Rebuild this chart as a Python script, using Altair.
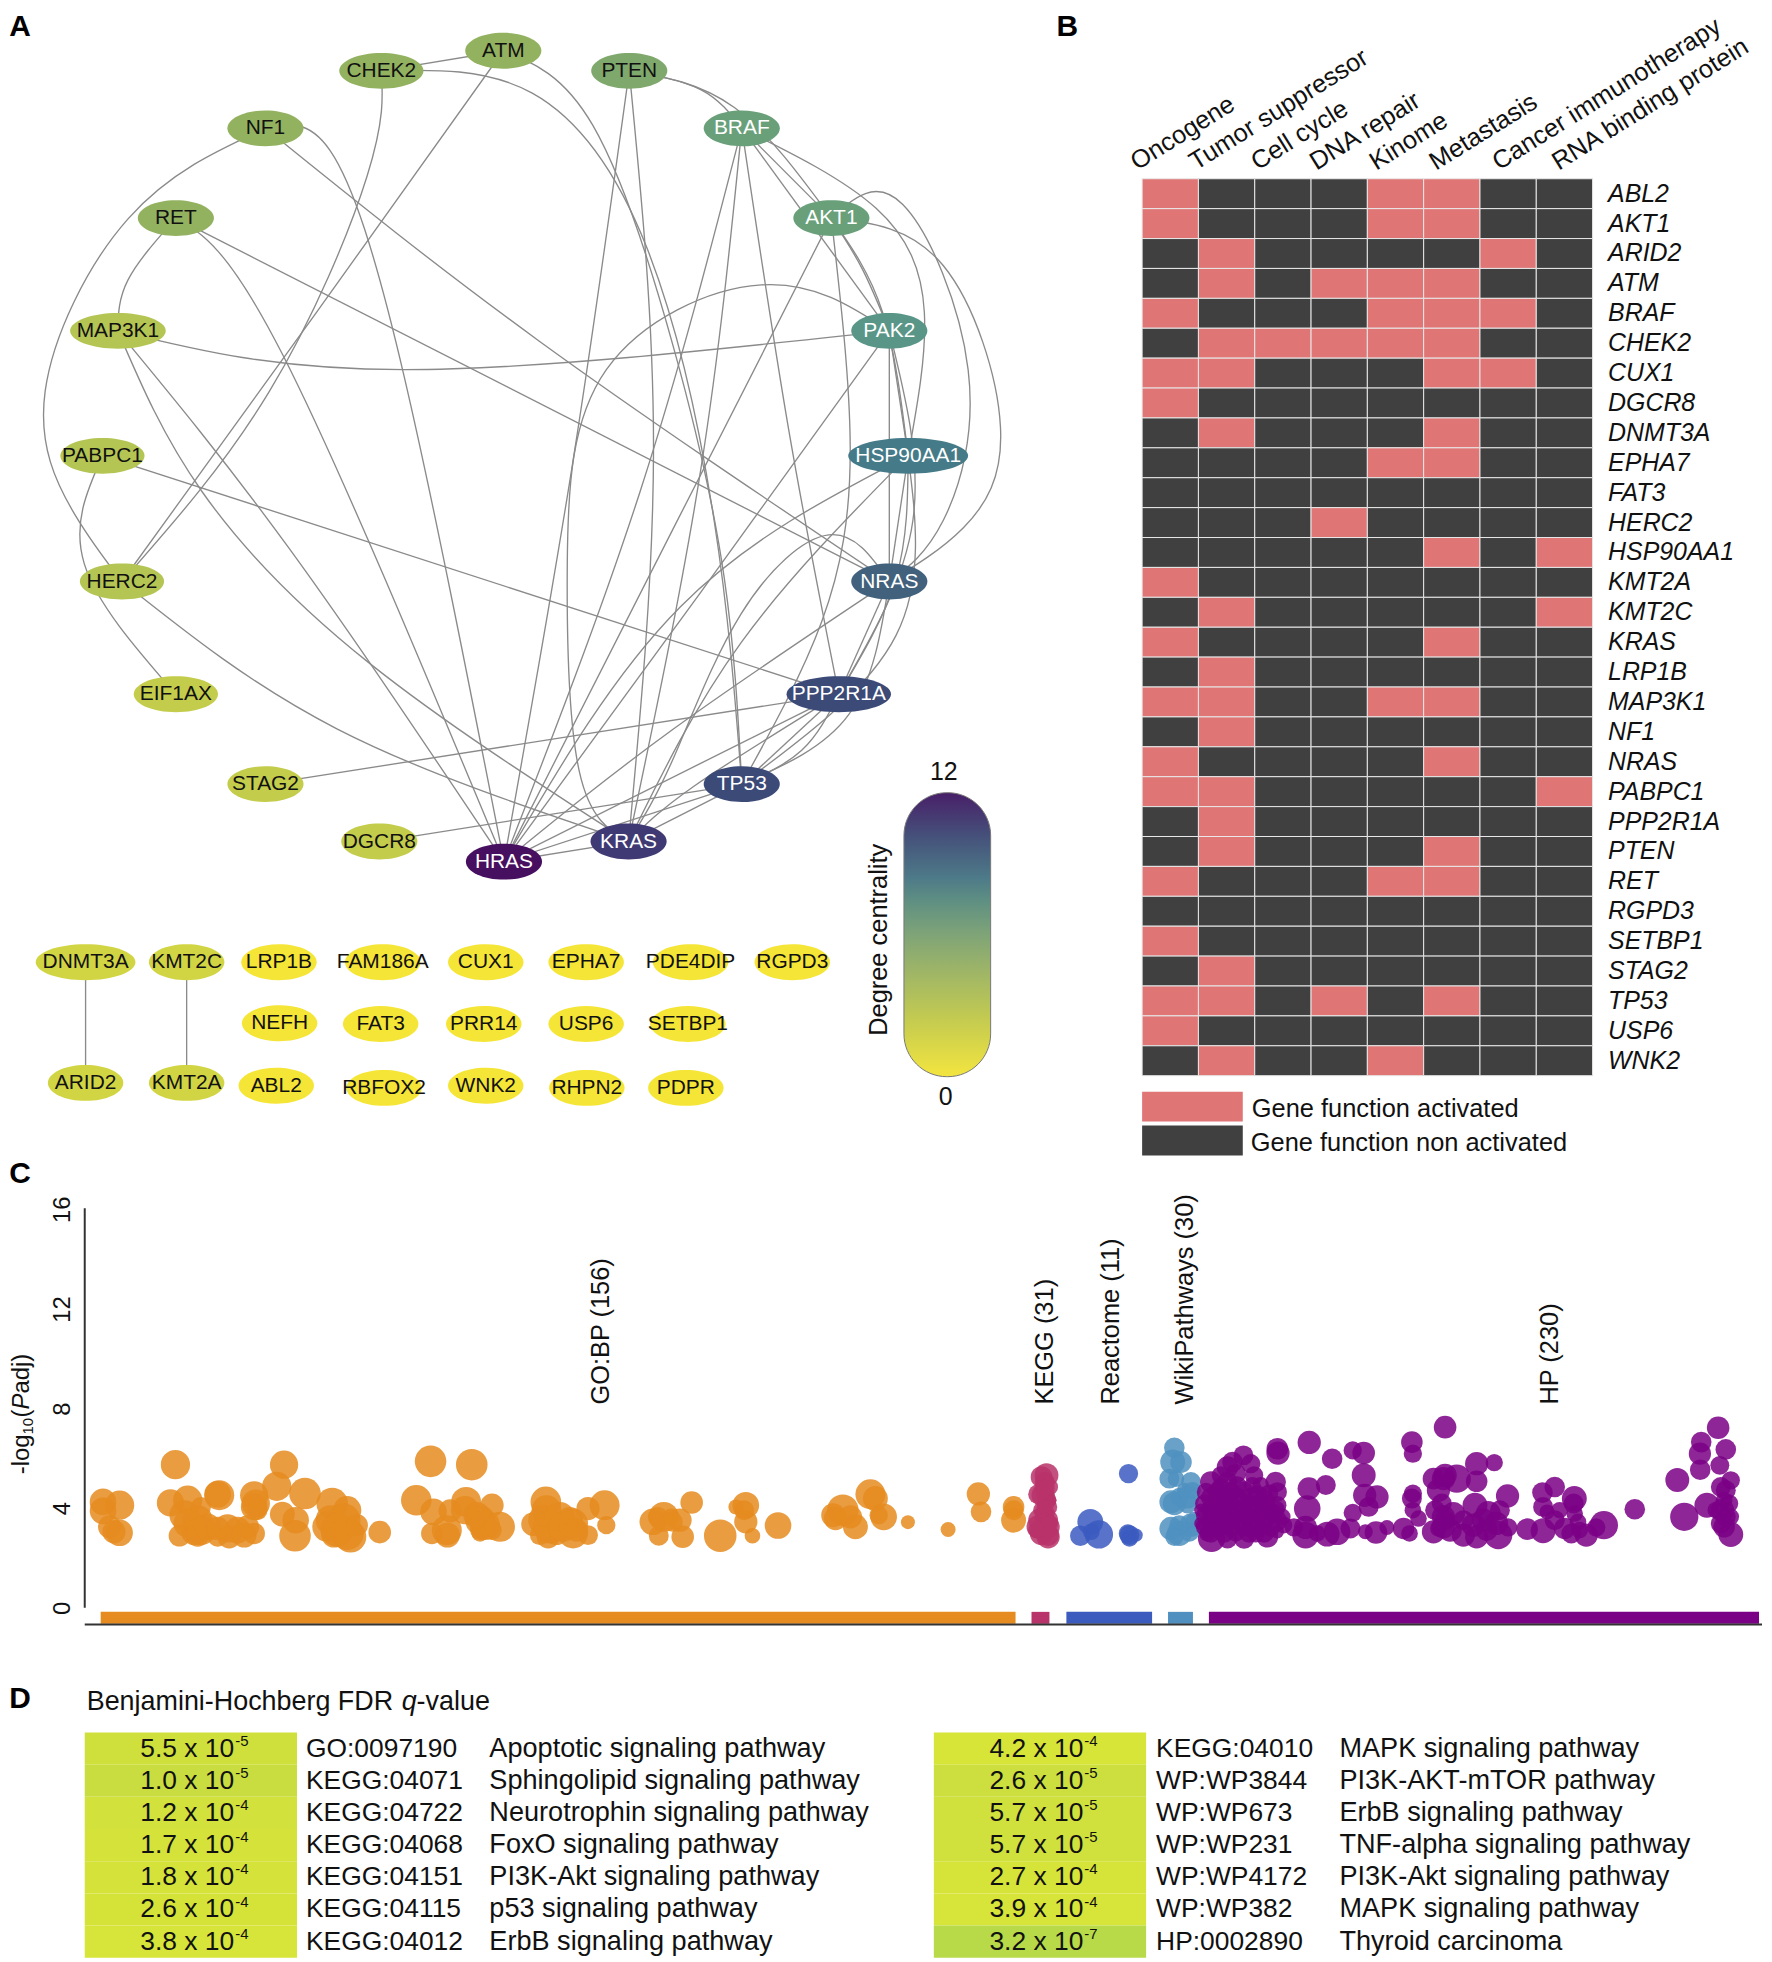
import altair as alt
import pandas as pd

FONT = "Liberation Sans"
ONE = pd.DataFrame({"v": [0]})

# ---------------------------------------------------------------- panel A values
NODES = [
    ("ATM", 747, 66, 113, 4), ("CHEK2", 566, 94, 125, 4), ("PTEN", 934, 94, 113, 5),
    ("NF1", 394, 174, 113, 4), ("BRAF", 1101, 174, 113, 6), ("RET", 261, 299, 113, 4),
    ("AKT1", 1234, 299, 113, 6), ("MAP3K1", 175, 456, 142, 3), ("PAK2", 1320, 456, 113, 7),
    ("PABPC1", 152, 630, 125, 3), ("HSP90AA1", 1348, 630, 178, 8), ("HERC2", 181, 805, 125, 3),
    ("NRAS", 1320, 805, 113, 9), ("EIF1AX", 261, 962, 125, 2), ("PPP2R1A", 1245, 962, 155, 10),
    ("STAG2", 394, 1087, 113, 2), ("TP53", 1101, 1087, 113, 10), ("DGCR8", 563, 1167, 113, 2),
    ("KRAS", 933, 1167, 113, 11), ("HRAS", 748, 1195, 113, 12),
    ("DNMT3A", 127, 1335, 148, 1), ("KMT2C", 277, 1335, 112, 1), ("LRP1B", 414, 1335, 112, 0),
    ("FAM186A", 568, 1335, 112, 0), ("CUX1", 721, 1335, 112, 0), ("EPHA7", 870, 1335, 112, 0),
    ("PDE4DIP", 1025, 1335, 112, 0), ("RGPD3", 1176, 1335, 112, 0),
    ("NEFH", 415, 1420, 112, 0), ("FAT3", 565, 1421, 112, 0), ("PRR14", 718, 1421, 112, 0),
    ("USP6", 870, 1421, 112, 0), ("SETBP1", 1021, 1421, 112, 0),
    ("ARID2", 127, 1503, 112, 1), ("KMT2A", 277, 1503, 112, 1), ("ABL2", 410, 1507, 112, 0),
    ("RBFOX2", 570, 1510, 112, 0), ("WNK2", 721, 1507, 112, 0), ("RHPN2", 871, 1510, 112, 0),
    ("PDPR", 1018, 1510, 112, 0),
]
WHITE_TEXT = ["BRAF", "AKT1", "PAK2", "HSP90AA1", "NRAS", "PPP2R1A", "TP53", "KRAS", "HRAS"]
EDGES = [
    ("CHEK2", "ATM", []),
    ("CHEK2", "TP53", [(790, 125), (960, 340), (1060, 720)]),
    ("ATM", "TP53", [(880, 170), (1000, 480), (1075, 800)]),
    ("CHEK2", "HERC2", [(545, 240), (400, 540)]),
    ("ATM", "HERC2", [(470, 430)]),
    ("NF1", "HERC2", [(190, 300), (67, 540), (110, 710)]),
    ("NF1", "HRAS", [(490, 205), (600, 520)]),
    ("NF1", "NRAS", [(800, 470)]),
    ("RET", "HRAS", [(420, 490)]),
    ("RET", "NRAS", []),
    ("RET", "MAP3K1", [(190, 385)]),
    ("MAP3K1", "PAK2", [(600, 510)]),
    ("MAP3K1", "HRAS", [(430, 760)]),
    ("MAP3K1", "KRAS", [(300, 680), (550, 920)]),
    ("PABPC1", "PPP2R1A", []),
    ("PABPC1", "EIF1AX", [(125, 780)]),
    ("HERC2", "KRAS", [(500, 1010)]),
    ("STAG2", "PPP2R1A", []),
    ("DGCR8", "TP53", []),
    ("HRAS", "KRAS", []),
    ("KRAS", "TP53", []),
    ("HRAS", "TP53", []),
    ("PTEN", "BRAF", [(1040, 120)]),
    ("PTEN", "AKT1", [(1090, 145)]),
    ("PTEN", "HRAS", [(850, 640)]),
    ("PTEN", "KRAS", [(970, 620)]),
    ("BRAF", "HRAS", [(950, 680)]),
    ("BRAF", "KRAS", [(1040, 650)]),
    ("BRAF", "PPP2R1A", [(1170, 590)]),
    ("BRAF", "AKT1", []),
    ("BRAF", "PAK2", []),
    ("BRAF", "HSP90AA1", [(1300, 285), (1372, 430)]),
    ("AKT1", "NRAS", [(1340, 280), (1437, 510), (1400, 720)]),
    ("AKT1", "NRAS", [(1400, 365), (1485, 590), (1430, 730)]),
    ("AKT1", "HRAS", [(1000, 730)]),
    ("AKT1", "TP53", [(1262, 620), (1220, 860)]),
    ("AKT1", "PAK2", [(1280, 370)]),
    ("AKT1", "HSP90AA1", [(1310, 430)]),
    ("PAK2", "KRAS", [(1130, 392), (900, 510), (842, 780), (860, 1070)]),
    ("PAK2", "HRAS", [(1040, 820)]),
    ("PAK2", "HSP90AA1", []),
    ("PAK2", "NRAS", []),
    ("PAK2", "PPP2R1A", [(1355, 720)]),
    ("HSP90AA1", "HRAS", [(1010, 840)]),
    ("HSP90AA1", "KRAS", [(1100, 890)]),
    ("HSP90AA1", "NRAS", []),
    ("HSP90AA1", "PPP2R1A", [(1330, 800)]),
    ("HSP90AA1", "TP53", [(1330, 880)]),
    ("NRAS", "HRAS", [(1000, 1010)]),
    ("NRAS", "KRAS", [(1230, 740), (1100, 850), (1000, 1050)]),
    ("NRAS", "PPP2R1A", []),
    ("NRAS", "TP53", [(1260, 990)]),
    ("PPP2R1A", "HRAS", []),
    ("PPP2R1A", "KRAS", [(1030, 1090)]),
    ("PPP2R1A", "TP53", []),
    ("PPP2R1A", "TP53", [(1190, 1040)]),
    ("DNMT3A", "ARID2", []),
    ("KMT2C", "KMT2A", []),
]
DEGREE_STEPS = list(range(13))
DEGREE_COLORS = ["#f5e536", "#d2d543", "#c4cc4b", "#b5c553", "#93b260", "#7fa86c", "#69a07a",
                 "#5a9688", "#457a88", "#41617d", "#3c4a77", "#403a74", "#470f60"]

# ---------------------------------------------------------------- panel B values
FUNCTIONS = ["Oncogene", "Tumor suppressor", "Cell cycle", "DNA repair", "Kinome", "Metastasis",
             "Cancer immunotherapy", "RNA binding protein"]
FUNCTION_LABEL_X = [1141, 1200, 1262, 1321, 1381, 1441, 1504, 1564]
GENES = ["ABL2", "AKT1", "ARID2", "ATM", "BRAF", "CHEK2", "CUX1", "DGCR8", "DNMT3A", "EPHA7", "FAT3",
         "HERC2", "HSP90AA1", "KMT2A", "KMT2C", "KRAS", "LRP1B", "MAP3K1", "NF1", "NRAS", "PABPC1",
         "PPP2R1A", "PTEN", "RET", "RGPD3", "SETBP1", "STAG2", "TP53", "USP6", "WNK2"]
ACTIVE = ["10001100", "10001100", "01000010", "01011100", "10001110", "01111100", "11000110",
          "10000000", "01000100", "00001100", "00000000", "00010000", "00000101", "10000000",
          "01000001", "10000100", "01000000", "11001100", "01000000", "10000100", "11000001",
          "01000000", "01000100", "10001100", "00000000", "10000000", "01000000", "11010100",
          "10000000", "01001000"]

# ---------------------------------------------------------------- panel C values
ORANGE_A = [(55, 245, 80), (105, 255, 88), (55, 272, 80), (75, 320, 70), (88, 335, 70), (105, 338, 80),
            (273, 133, 88), (258, 248, 82), (310, 240, 88), (405, 225, 90), (400, 222, 80),
            (300, 285, 90), (310, 310, 85), (340, 300, 90), (350, 330, 90), (330, 335, 80), (285, 347, 65),
            (340, 345, 70), (370, 320, 80), (400, 350, 60), (430, 325, 85), (435, 350, 70), (460, 330, 80),
            (480, 345, 75), (510, 340, 65), (490, 320, 70), (400, 325, 70), (350, 260, 60),
            (510, 225, 85), (515, 250, 85), (510, 260, 80), (520, 270, 60),
            (600, 133, 85), (578, 198, 88), (663, 220, 95), (595, 282, 75), (635, 300, 80), (633, 347, 95),
            (745, 250, 95), (790, 270, 85), (740, 300, 90), (780, 300, 100), (730, 320, 90), (760, 330, 100),
            (790, 340, 100), (750, 345, 75), (800, 350, 95), (820, 315, 65), (888, 336, 68),
            (1041, 123, 95), (1165, 133, 95), (998, 240, 92), (1050, 275, 80), (1100, 272, 70), (1148, 245, 90),
            (1145, 270, 85), (1226, 255, 70), (1190, 300, 90), (1205, 315, 90), (1180, 285, 80), (1045, 340, 65),
            (1090, 330, 90), (1092, 345, 75), (1190, 330, 60), (1250, 320, 90), (1225, 330, 60), (1190, 340, 50),
            (1388, 245, 92), (1390, 270, 90), (1350, 312, 72), (1380, 300, 90), (1400, 320, 100), (1430, 290, 90),
            (1460, 300, 80), (1470, 340, 90), (1395, 350, 70), (1420, 340, 70), (1440, 320, 90), (1470, 310, 90),
            (1515, 345, 60), (1515, 265, 70), (1370, 345, 60), (1480, 330, 70)]
ORANGE_B = [(5, 255, 90), (10, 315, 55), (183, 290, 90), (150, 305, 80), (165, 290, 60), (267, 247, 68),
            (232, 300, 70), (168, 347, 60), (240, 350, 68), (205, 290, 50), (210, 305, 60),
            (353, 347, 98), (430, 255, 80), (430, 305, 70), (425, 270, 60), (400, 260, 45), (450, 347, 47),
            (527, 316, 80), (805, 222, 90), (820, 235, 75), (722, 270, 95), (693, 285, 72), (700, 295, 70),
            (760, 320, 75), (745, 290, 70), (845, 290, 80), (830, 285, 55), (918, 306, 42), (1039, 328, 45),
            (1130, 221, 70), (1138, 275, 62), (1236, 260, 65), (1236, 300, 75), (1236, 270, 60)]
KEGG = [(1335, 165, 72), (1320, 170, 65), (1330, 185, 60), (1325, 225, 70), (1335, 240, 60), (1310, 222, 60),
        (1340, 260, 55), (1315, 300, 70), (1335, 300, 70), (1310, 320, 70), (1340, 320, 70), (1320, 340, 70),
        (1340, 345, 65), (1340, 350, 70), (1330, 280, 60), (1330, 205, 60), (1345, 200, 50), (1350, 240, 30),
        (1320, 270, 50), (1345, 310, 50), (1305, 330, 50), (1325, 260, 40)]
REACTOME_A = [(1467, 305, 78), (1437, 347, 62), (1493, 343, 85), (1470, 335, 50)]
REACTOME_B = [(22, 190, 58), (25, 375, 60), (20, 370, 55), (45, 375, 40), (25, 385, 50)]
WIKI = [(160, 112, 62), (155, 155, 75), (180, 155, 65), (145, 205, 60), (165, 205, 50), (210, 215, 60),
        (150, 275, 70), (200, 260, 70), (160, 280, 70), (150, 355, 70), (175, 370, 75), (210, 345, 70),
        (205, 365, 60), (175, 345, 60), (160, 380, 55), (220, 330, 50), (200, 280, 60), (175, 260, 55),
        (190, 240, 45), (215, 240, 50)]
HP_A = [(368, 135, 60), (335, 155, 62), (320, 170, 65), (390, 160, 58), (345, 190, 60), (300, 195, 55),
        (270, 215, 65), (320, 215, 62), (400, 195, 55), (420, 225, 50), (465, 215, 62), (470, 245, 58),
        (255, 245, 55), (290, 245, 60), (330, 245, 60), (370, 240, 55), (410, 255, 60), (445, 250, 55),
        (250, 280, 55), (285, 280, 60), (320, 280, 60), (355, 275, 60), (395, 285, 60), (435, 280, 55), (470, 285, 55),
        (255, 315, 60), (295, 315, 60), (335, 315, 60), (375, 315, 60), (415, 315, 55), (455, 310, 60), (485, 320, 50),
        (255, 350, 60), (290, 350, 55), (330, 350, 60), (370, 350, 60), (410, 350, 60), (450, 350, 60), (490, 345, 50),
        (272, 385, 82), (320, 385, 60), (370, 385, 62), (440, 380, 65), (405, 370, 55), (260, 370, 50), (345, 370, 50),
        (470, 365, 40),
        (270, 262, 60), (310, 262, 60), (350, 262, 60), (390, 262, 60), (430, 262, 55), (270, 298, 60), (310, 298, 60),
        (350, 298, 60), (390, 298, 60), (430, 298, 60), (465, 298, 55), (270, 332, 60), (310, 332, 60), (350, 332, 60),
        (390, 332, 60), (430, 332, 60), (470, 332, 60), (270, 368, 60), (310, 368, 60), (385, 368, 60), (430, 368, 60),
        (300, 230, 55), (350, 225, 55), (395, 225, 50), (240, 300, 40), (240, 340, 40), (520, 352, 55),
        (470, 115, 65), (472, 128, 70), (566, 96, 70), (635, 145, 62), (697, 120, 55), (730, 128, 68), (730, 195, 72),
        (565, 235, 68), (616, 224, 60), (560, 295, 80), (733, 255, 70), (770, 260, 70), (745, 290, 60), (697, 308, 55),
        (555, 352, 70), (555, 375, 80), (620, 372, 75), (650, 365, 80), (590, 370, 50), (690, 355, 60), (735, 365, 45),
        (767, 367, 68), (800, 352, 45), (850, 355, 65), (868, 370, 50), (895, 325, 50), (875, 95, 65), (878, 130, 55),
        (875, 265, 60), (878, 250, 55), (878, 300, 50), (940, 205, 65), (955, 240, 70), (945, 300, 60), (940, 365, 70),
        (955, 355, 50), (975, 330, 60)]
HP_B = [(15, 50, 68), (110, 160, 70), (163, 157, 52), (110, 213, 65), (50, 205, 85), (10, 205, 70), (15, 195, 70),
        (203, 257, 70), (105, 285, 75), (145, 310, 75), (130, 330, 70), (100, 345, 70), (170, 340, 70), (175, 375, 85),
        (110, 380, 70), (70, 375, 70), (30, 360, 70), (10, 350, 70), (40, 310, 70), (70, 330, 60), (5, 280, 60),
        (10, 320, 70), (140, 360, 65), (180, 300, 60), (205, 352, 55), (262, 357, 65), (310, 362, 75), (345, 230, 62),
        (308, 247, 62), (310, 290, 60), (322, 305, 45), (404, 265, 75), (402, 280, 60), (405, 310, 50), (360, 300, 50),
        (345, 330, 60), (375, 355, 65), (395, 370, 60), (415, 335, 50), (440, 375, 70), (420, 360, 50), (470, 352, 55),
        (493, 345, 85), (586, 297, 62), (837, 52, 68), (786, 95, 62), (782, 130, 67), (860, 117, 62), (842, 165, 57),
        (783, 178, 62), (714, 209, 72), (875, 210, 55), (845, 230, 60), (860, 240, 60), (735, 320, 85), (803, 285, 75),
        (870, 280, 55), (855, 270, 50), (850, 300, 70), (830, 300, 50), (875, 320, 50), (845, 340, 60), (860, 320, 60),
        (855, 350, 65), (875, 373, 75)]
GROUPS = ["GO:BP", "KEGG", "Reactome", "WikiPathways", "HP"]
GROUP_COLORS = ["#e58b1f", "#b8336a", "#3b5bbf", "#4f90c0", "#7a0085"]
GROUP_BAR_START = [101, 1035, 1070, 1172, 1213]
GROUP_BAR_END = [1019, 1053, 1156, 1197, 1765]
GROUP_LABELS = [("GO:BP (156)", 603), ("KEGG (31)", 1049), ("Reactome (11)", 1115),
                ("WikiPathways (30)", 1189), ("HP (230)", 1555)]

# ---------------------------------------------------------------- panel D values
TABLE_LEFT = [
    ("5.5 x 10", "-5", 4.26, "GO:0097190", "Apoptotic signaling pathway"),
    ("1.0 x 10", "-5", 5.0, "KEGG:04071", "Sphingolipid signaling pathway"),
    ("1.2 x 10", "-4", 3.92, "KEGG:04722", "Neurotrophin signaling pathway"),
    ("1.7 x 10", "-4", 3.77, "KEGG:04068", "FoxO signaling pathway"),
    ("1.8 x 10", "-4", 3.74, "KEGG:04151", "PI3K-Akt signaling pathway"),
    ("2.6 x 10", "-4", 3.59, "KEGG:04115", "p53 signaling pathway"),
    ("3.8 x 10", "-4", 3.42, "KEGG:04012", "ErbB signaling pathway"),
]
TABLE_RIGHT = [
    ("4.2 x 10", "-4", 3.38, "KEGG:04010", "MAPK signaling pathway"),
    ("2.6 x 10", "-5", 4.59, "WP:WP3844", "PI3K-AKT-mTOR pathway"),
    ("5.7 x 10", "-5", 4.24, "WP:WP673", "ErbB signaling pathway"),
    ("5.7 x 10", "-5", 4.24, "WP:WP231", "TNF-alpha signaling pathway"),
    ("2.7 x 10", "-4", 3.57, "WP:WP4172", "PI3K-Akt signaling pathway"),
    ("3.9 x 10", "-4", 3.41, "WP:WP382", "MAPK signaling pathway"),
    ("3.2 x 10", "-7", 6.49, "HP:0002890", "Thyroid carcinoma"),
]
LEFT_COLS = (85, 298, 235, 307, 491)
RIGHT_COLS = (937, 1150, 1087, 1160, 1344)


def label(text, px, py, ox, oy, size=24, color="#111111", **kw):
    """A single piece of real text placed inside a panel whose page origin is (ox, oy)."""
    return alt.Chart(ONE).mark_text(text=text, fontSize=size, font=FONT, color=color, **kw).encode(
        x=alt.value(px - ox), y=alt.value(py - oy))


def ellipse(width, height):
    r = height / width
    k = 0.5523
    return (f"M-1,0 C-1,{-k*r:.4f} {-k:.4f},{-r:.4f} 0,{-r:.4f} C{k:.4f},{-r:.4f} 1,{-k*r:.4f} 1,0 "
            f"C1,{k*r:.4f} {k:.4f},{r:.4f} 0,{r:.4f} C{-k:.4f},{r:.4f} -1,{k*r:.4f} -1,0 Z")


# ================================================================= A
XA, YA = 0.676, 0.7207      # layout units per page pixel of the network panel
A_W, A_H = 1138, 1152
ax = alt.Scale(domain=[8 / XA, (8 + A_W) / XA], nice=False, zero=False)
ay = alt.Scale(domain=[(8 + A_H) / YA, 8 / YA], nice=False, zero=False)
pos = {n[0]: (n[1], n[2]) for n in NODES}

edge_rows = []
for i, (s, t, mids) in enumerate(EDGES):
    pts = [pos[s]] + mids + [pos[t]]
    for k, (x, y) in enumerate(pts):
        edge_rows.append({"edge": i, "k": k, "x": x, "y": y})
edges_df = pd.DataFrame(edge_rows)
edges = alt.Chart(edges_df).mark_line(interpolate="natural", color="#8a8a8a", strokeWidth=1.35).encode(
    x=alt.X("x:Q", scale=ax, axis=None), y=alt.Y("y:Q", scale=ay, axis=None),
    detail="edge:N", order="k:Q")

nodes_df = pd.DataFrame([{
    "name": n, "x": x, "y": y, "degree": d,
    "size": (w * XA) ** 2, "shape": ellipse(w * XA, 36),
    "ink": "white" if n in WHITE_TEXT else "#111111",
} for n, x, y, w, d in NODES])
node_marks = alt.Chart(nodes_df).mark_point(filled=True, opacity=1, strokeWidth=0).encode(
    x=alt.X("x:Q", scale=ax, axis=None), y=alt.Y("y:Q", scale=ay, axis=None),
    shape=alt.Shape("shape:N", scale=None, legend=None),
    size=alt.Size("size:Q", scale=None, legend=None),
    color=alt.Color("degree:Q", legend=None,
                    scale=alt.Scale(domain=DEGREE_STEPS, range=DEGREE_COLORS, interpolate="rgb")))
node_text = alt.Chart(nodes_df).mark_text(fontSize=21, font=FONT).encode(
    x=alt.X("x:Q", scale=ax, axis=None), y=alt.Y("y:Q", scale=ay, axis=None), text="name:N",
    color=alt.Color("ink:N", scale=None, legend=None))

pill = alt.Chart(ONE).mark_bar(
    cornerRadius=43, stroke="#777777", strokeWidth=1,
    color=alt.Gradient(gradient="linear", x1=0, x2=0, y1=1, y2=0, stops=[
        alt.GradientStop(offset=0, color="#f3e53f"), alt.GradientStop(offset=0.2, color="#c4cb50"),
        alt.GradientStop(offset=0.35, color="#a3b864"), alt.GradientStop(offset=0.5, color="#7fa477"),
        alt.GradientStop(offset=0.62, color="#5e8f82"), alt.GradientStop(offset=0.7, color="#4d7a88"),
        alt.GradientStop(offset=0.85, color="#45507a"), alt.GradientStop(offset=1, color="#481f68")])
).encode(
    x=alt.value(907 - 8), x2=alt.value(994 - 8), y=alt.value(792 - 8), y2=alt.value(1077 - 8))

panel_a = alt.layer(
    edges, node_marks, node_text, pill,
    label("12", 947, 771, 8, 8, size=25),
    label("0", 949, 1097, 8, 8, size=25),
    label("Degree centrality", 882, 1036, 8, 8, size=25.5, angle=270, align="left", baseline="middle"),
    label("A", 20, 24, 8, 8, size=30, fontWeight="bold", color="black"),
    label("B", 1071, 24, 8, 8, size=30, fontWeight="bold", color="black"),
).properties(width=A_W, height=A_H)

# ================================================================= B
PINK, DARK = "#e07575", "#404040"
HEAT_X0, HEAT_W = 1146, 452
heat_rows = []
for g, bits in zip(GENES, ACTIVE):
    for f, b in zip(FUNCTIONS, bits):
        heat_rows.append({"gene": g, "fn": f, "state": int(b)})
heat = alt.Chart(pd.DataFrame(heat_rows)).mark_rect(stroke="#e8e8e8", strokeWidth=1).encode(
    x=alt.X("fn:N", sort=FUNCTIONS, title=None, scale=alt.Scale(paddingInner=0, paddingOuter=0), axis=None),
    y=alt.Y("gene:N", sort=GENES, title=None, scale=alt.Scale(paddingInner=0, paddingOuter=0),
            axis=alt.Axis(orient="right", labelFontSize=25, labelFont=FONT, labelFontStyle="italic",
                          labelColor="#111111", ticks=False, domain=False, labelPadding=15, labelLimit=0,
                          labelOverlap=False)),
    color=alt.Color("state:N", legend=None, scale=alt.Scale(domain=[1, 0], range=[PINK, DARK]))
).properties(width=HEAT_W, height=900)

tx = alt.Scale(domain=[HEAT_X0, HEAT_X0 + HEAT_W], nice=False, zero=False)
ty = alt.Scale(domain=[176, 8], nice=False, zero=False)
fn_df = pd.DataFrame({"name": FUNCTIONS, "x": FUNCTION_LABEL_X, "y": [168] * len(FUNCTIONS)})
top_gap = alt.Chart(fn_df).mark_text(angle=328, align="left", baseline="alphabetic", fontSize=25.5,
                                      font=FONT, color="#111111").encode(
    x=alt.X("x:Q", scale=tx, axis=None), y=alt.Y("y:Q", scale=ty, axis=None), text="name:N"
).properties(width=HEAT_W, height=168)

LEG_NAMES = ["Gene function activated", "Gene function non activated"]
leg_df = pd.DataFrame({"name": LEG_NAMES, "x": [1146, 1146], "x2": [1247, 1247],
                       "y": [1092, 1126], "y2": [1122, 1156], "ty": [1109, 1144], "tx": [1256, 1255]})
lx = alt.Scale(domain=[HEAT_X0, HEAT_X0 + HEAT_W], nice=False, zero=False)
ly = alt.Scale(domain=[1160, 1076], nice=False, zero=False)
leg_rect = alt.Chart(leg_df).mark_rect().encode(
    x=alt.X("x:Q", scale=lx, axis=None), x2="x2:Q",
    y=alt.Y("y:Q", scale=ly, axis=None), y2="y2:Q",
    color=alt.Color("name:N", legend=None, scale=alt.Scale(domain=LEG_NAMES, range=[PINK, DARK])))
leg_text = alt.Chart(leg_df).mark_text(align="left", fontSize=25.5, font=FONT, color="#111111").encode(
    x=alt.X("tx:Q", scale=lx, axis=None), y=alt.Y("ty:Q", scale=ly, axis=None), text="name:N")
legend_b = alt.layer(leg_rect, leg_text).properties(width=HEAT_W, height=84)

panel_b = alt.vconcat(top_gap, heat, legend_b, spacing=0, bounds="flush")

# ================================================================= C
C_TOP, C_H = 1160, 480
V0, PX_PER_UNIT = 1608, 25
cx = alt.Scale(domain=[8, 1764], nice=False, zero=False)
cy = alt.Scale(domain=[(V0 - (C_TOP + C_H)) / PX_PER_UNIT, (V0 - C_TOP) / PX_PER_UNIT], nice=False, zero=False)
c_axis = alt.Axis(values=[0, 4, 8, 12, 16], offset=-77, domain=False, ticks=False, grid=False,
                  labelAngle=270, labelAlign="center", labelBaseline="bottom", labelPadding=10,
                  labelFontSize=24, labelFont=FONT, labelColor="#111111", title=None)


def rows(group, ox, oy, triples):
    return [{"group": group, "x": ox + a / 3, "y": (V0 - (oy + b / 3)) / PX_PER_UNIT, "size": (c / 3) ** 2}
            for a, b, c in triples]


points_df = pd.DataFrame(
    rows("GO:BP", 85, 1420, ORANGE_A) + rows("GO:BP", 605, 1420, ORANGE_B) + rows("KEGG", 605, 1420, KEGG) +
    rows("Reactome", 605, 1420, REACTOME_A) + rows("Reactome", 1125, 1410, REACTOME_B) +
    rows("WikiPathways", 1125, 1410, WIKI) + rows("HP", 1125, 1410, HP_A) + rows("HP", 1445, 1410, HP_B))
group_scale = alt.Scale(domain=GROUPS, range=GROUP_COLORS)
points = alt.Chart(points_df).mark_circle(opacity=0.85).encode(
    x=alt.X("x:Q", scale=cx, axis=None),
    y=alt.Y("y:Q", scale=cy, axis=c_axis),
    size=alt.Size("size:Q", scale=None, legend=None),
    color=alt.Color("group:N", scale=group_scale, legend=None))

bars_df = pd.DataFrame({"group": GROUPS, "x": GROUP_BAR_START, "x2": GROUP_BAR_END,
                        "y": [-0.16] * 5, "y2": [-0.64] * 5})
bars = alt.Chart(bars_df).mark_rect().encode(
    x=alt.X("x:Q", scale=cx, axis=None), x2="x2:Q",
    y=alt.Y("y:Q", scale=cy, axis=c_axis), y2="y2:Q",
    color=alt.Color("group:N", scale=group_scale, legend=None))
axis_v = alt.Chart(pd.DataFrame({"x": [85], "y": [0.0], "y2": [16.04]})).mark_rule(color="#333333", strokeWidth=2).encode(
    x=alt.X("x:Q", scale=cx, axis=None), y=alt.Y("y:Q", scale=cy, axis=c_axis), y2="y2:Q")
axis_h = alt.Chart(pd.DataFrame({"x": [85], "x2": [1768], "y": [-0.67]})).mark_rule(color="#333333", strokeWidth=2).encode(
    x=alt.X("x:Q", scale=cx, axis=None), x2="x2:Q", y=alt.Y("y:Q", scale=cy, axis=c_axis))

group_text = [label(t, x, 1404, 8, C_TOP, size=25.5, angle=270, align="left", baseline="middle")
              for t, x in GROUP_LABELS]
rot = dict(angle=270, align="left", baseline="alphabetic")
y_title = [
    label("-log", 29, 1474, 8, C_TOP, size=24, **rot),
    label("10", 33, 1434, 8, C_TOP, size=15, **rot),
    label("(", 29, 1417, 8, C_TOP, size=24, **rot),
    label("P", 29, 1409, 8, C_TOP, size=24, fontStyle="italic", **rot),
    label("adj)", 29, 1393, 8, C_TOP, size=24, **rot),
]
panel_c = alt.layer(
    points, bars, axis_v, axis_h, *group_text, *y_title,
    label("C", 20, 1173, 8, C_TOP, size=30, fontWeight="bold", color="black"),
).properties(width=1756, height=C_H)

# ================================================================= D
D_TOP, D_H = 1640, 320
ROW_Y0, ROW_H = 1733, 32.3
dx = alt.Scale(domain=[8, 1764], nice=False, zero=False)
dy = alt.Scale(domain=[(D_TOP + D_H - ROW_Y0) / ROW_H, (D_TOP - ROW_Y0) / ROW_H], nice=False, zero=False)
tab_rows = []
for table, cols in ((TABLE_LEFT, LEFT_COLS), (TABLE_RIGHT, RIGHT_COLS)):
    for r, (q, e, logq, pid, pname) in enumerate(table):
        tab_rows.append({"r": r, "r2": r + 1, "mid": r + 0.5, "q": q, "e": e, "logq": logq, "pid": pid, "pname": pname,
                         "x0": cols[0], "x1": cols[1], "xq": cols[2], "xid": cols[3], "xn": cols[4]})
tab = alt.Chart(pd.DataFrame(tab_rows))
tab_rect = tab.mark_rect().encode(
    x=alt.X("x0:Q", scale=dx, axis=None), x2="x1:Q",
    y=alt.Y("r:Q", scale=dy, axis=None), y2="r2:Q",
    color=alt.Color("logq:Q", legend=None,
                    scale=alt.Scale(domain=[3.3, 5.0, 6.5], range=["#d8e438", "#c9dd40", "#b8da48"])))
Y_MID = alt.Y("mid:Q", scale=dy, axis=None)
tab_q = tab.mark_text(align="right", fontSize=26.5, font=FONT, color="#111111").encode(
    x=alt.X("xq:Q", scale=dx, axis=None), y=Y_MID, text="q:N")
tab_e = tab.mark_text(align="left", fontSize=15, font=FONT, color="#111111", dx=1, dy=-8).encode(
    x=alt.X("xq:Q", scale=dx, axis=None), y=Y_MID, text="e:N")
tab_id = tab.mark_text(align="left", fontSize=26.5, font=FONT, color="#111111").encode(
    x=alt.X("xid:Q", scale=dx, axis=None), y=Y_MID, text="pid:N")
tab_n = tab.mark_text(align="left", fontSize=27.2, font=FONT, color="#111111").encode(
    x=alt.X("xn:Q", scale=dx, axis=None), y=Y_MID, text="pname:N")
panel_d = alt.layer(
    tab_rect, tab_q, tab_e, tab_id, tab_n,
    label("Benjamini-Hochberg FDR", 87, 1702, 8, D_TOP, size=27, align="left"),
    label("q", 403, 1702, 8, D_TOP, size=27, align="left", fontStyle="italic"),
    label("-value", 418, 1702, 8, D_TOP, size=27, align="left"),
    label("D", 20, 1699, 8, D_TOP, size=30, fontWeight="bold", color="black"),
).properties(width=1756, height=D_H)

# ================================================================= page
row1 = alt.hconcat(panel_a, panel_b, spacing=0, bounds="flush")
chart = alt.vconcat(row1, panel_c, panel_d, spacing=0, bounds="full").properties(
    padding=0, background="white"
).configure_view(stroke=None).resolve_scale(color="independent", x="independent", y="independent", size="independent", shape="independent")

chart.save("out.html", embed_options={"renderer": "svg", "actions": False})
